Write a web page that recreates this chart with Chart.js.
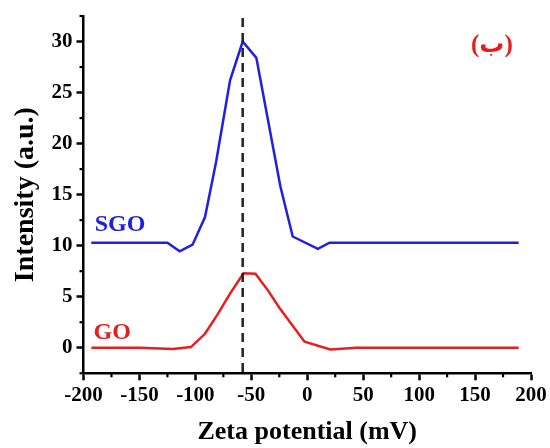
<!DOCTYPE html>
<html>
<head>
<meta charset="utf-8">
<script src="https://cdn.jsdelivr.net/npm/chart.js@4.4.1/dist/chart.umd.min.js"></script>
<style>
  body { margin: 0; background: #fff; }
  canvas { display: block; }
</style>
</head>
<body>
<canvas id="zetaChart" width="550" height="448"></canvas>
<script>
// zeta potential (mV) / intensity (a.u.) samples for each sample
const sgoZeta = [-193, -125, -114, -102.5, -91.4, -81.5, -69, -57.7, -45.5, -24, -13, 9.5, 20, 189];
const sgoIntensity = [10.3, 10.3, 9.45, 10.1, 12.8, 18.2, 26.2, 30.0, 28.4, 15.8, 10.9, 9.7, 10.3, 10.3];

const goZeta = [-193, -150, -120, -104, -91.4, -80, -69, -57, -46.3, -35, -24.8, -2.4, 20.6, 44, 189];
const goIntensity = [0, 0, -0.13, 0.07, 1.37, 3.3, 5.3, 7.3, 7.26, 5.6, 3.9, 0.6, -0.16, 0, 0];

// peak position marker
const peakZeta = -57.7;
const peakSpan = [32.3, -2.5];

const xTicks = [-200, -150, -100, -50, 0, 50, 100, 150, 200];
const xMinorTicks = [-175, -125, -75, -25, 25, 75, 125, 175];
const yTicks = [0, 5, 10, 15, 20, 25, 30];
const yMinorTicks = [-2.5, 2.5, 7.5, 12.5, 17.5, 22.5, 27.5, 32.5];

const SERIF = '"Liberation Serif", "DejaVu Serif", serif';
const toPoints = (xs, ys) => xs.map((x, i) => ({ x: x, y: ys[i] }));

// short minor tick marks plus the in-plot text labels
const extrasPlugin = {
    id: 'extras',
    afterDraw(chart) {
        const ctx = chart.ctx;
        const xs = chart.scales.x;
        const ys = chart.scales.y;
        const area = chart.chartArea;
        ctx.save();
        ctx.strokeStyle = '#000';
        ctx.lineWidth = 2.2;
        xMinorTicks.forEach(v => {
            const px = xs.getPixelForValue(v);
            ctx.beginPath();
            ctx.moveTo(px, area.bottom);
            ctx.lineTo(px, area.bottom + 4);
            ctx.stroke();
        });
        yMinorTicks.forEach(v => {
            const py = ys.getPixelForValue(v);
            ctx.beginPath();
            ctx.moveTo(area.left, py);
            ctx.lineTo(area.left - 4, py);
            ctx.stroke();
        });

        ctx.font = 'bold 24px ' + SERIF;
        ctx.textBaseline = 'alphabetic';
        ctx.textAlign = 'left';
        ctx.fillStyle = '#2020e0';
        ctx.fillText('SGO', xs.getPixelForValue(-190), ys.getPixelForValue(11.4));
        ctx.fillStyle = '#e61e1e';
        ctx.fillText('GO', xs.getPixelForValue(-191), ys.getPixelForValue(0.9));

        ctx.font = 'bold 25px ' + SERIF + ', "DejaVu Sans"';
        ctx.textAlign = 'center';
        ctx.textBaseline = 'middle';
        ctx.fillText('(ب)', xs.getPixelForValue(165), ys.getPixelForValue(29.6));
        ctx.restore();
    }
};

new Chart(document.getElementById('zetaChart'), {
    type: 'line',
    data: {
        datasets: [
            {
                data: [{ x: peakZeta, y: peakSpan[0] }, { x: peakZeta, y: peakSpan[1] }],
                borderColor: '#222',
                borderWidth: 2.5,
                borderDash: [9, 6],
                pointRadius: 0
            },
            {
                label: 'SGO',
                data: toPoints(sgoZeta, sgoIntensity),
                borderColor: '#2020e0',
                borderWidth: 2.5,
                pointRadius: 0,
                tension: 0
            },
            {
                label: 'GO',
                data: toPoints(goZeta, goIntensity),
                borderColor: '#e61e1e',
                borderWidth: 2.5,
                pointRadius: 0,
                tension: 0
            }
        ]
    },
    options: {
        responsive: false,
        animation: false,
        clip: false,
        layout: { padding: { top: 16, right: 19, left: 0, bottom: 0 } },
        plugins: {
            legend: { display: false },
            tooltip: { enabled: false }
        },
        scales: {
            x: {
                type: 'linear',
                min: -200,
                max: 200,
                afterBuildTicks: s => { s.ticks = xTicks.map(v => ({ value: v })); },
                afterFit: s => { s.height = 74.7; s.paddingLeft = 0; s.paddingRight = 0; },
                border: { color: '#000', width: 2.5 },
                grid: { drawOnChartArea: false, tickLength: 7, tickWidth: 2.5, tickColor: '#000' },
                ticks: {
                    color: '#000',
                    padding: 3,
                    maxRotation: 0,
                    font: { family: SERIF, size: 21, weight: 'bold' }
                },
                title: {
                    display: true,
                    text: 'Zeta potential (mV)',
                    color: '#000',
                    padding: { top: 0, bottom: 0 },
                    font: { family: SERIF, size: 26, weight: 'bold' }
                }
            },
            y: {
                min: -2.5,
                max: 32.5,
                afterBuildTicks: s => { s.ticks = yTicks.map(v => ({ value: v })); },
                afterFit: s => { s.width = 83.5; s.paddingTop = 0; s.paddingBottom = 0; },
                border: { color: '#000', width: 2.5 },
                grid: { drawOnChartArea: false, tickLength: 7, tickWidth: 2.5, tickColor: '#000' },
                ticks: {
                    color: '#000',
                    padding: 4,
                    font: { family: SERIF, size: 21, weight: 'bold' }
                },
                title: {
                    display: true,
                    text: 'Intensity (a.u.)',
                    color: '#000',
                    padding: { top: 9, bottom: 0 },
                    font: { family: SERIF, size: 28, weight: 'bold' }
                }
            }
        }
    },
    plugins: [extrasPlugin]
});
</script>
</body>
</html>
